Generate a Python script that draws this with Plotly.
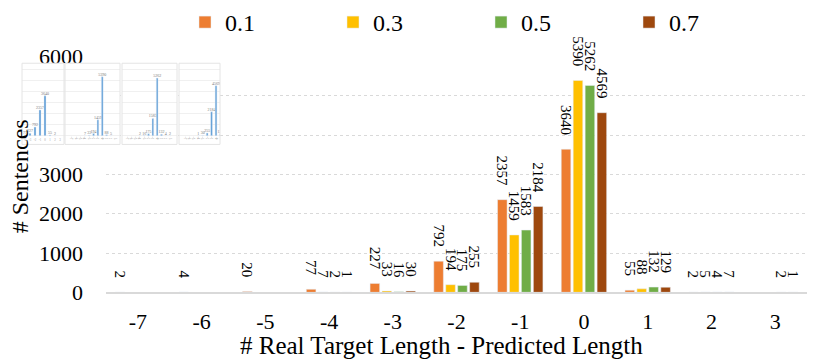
import plotly.graph_objects as go

W, H = 830, 359

categories = ["-7", "-6", "-5", "-4", "-3", "-2", "-1", "0", "1", "2", "3"]
rate_01 = [2, 4, 20, 77, 227, 792, 2357, 3640, 55, 2, None]
rate_03 = [None, None, None, 7, 33, 194, 1459, 5390, 88, 5, None]
rate_05 = [None, None, None, 2, 16, 175, 1583, 5262, 132, 4, 2]
rate_07 = [None, None, None, 1, 30, 255, 2184, 4569, 129, 7, 1]
series_names = ["0.1", "0.3", "0.5", "0.7"]
y_ticks = [0, 1000, 2000, 3000, 4000, 5000, 6000]

colors = ["#ED7D31", "#FFC000", "#70AD47", "#9E480E"]
FONT = "Liberation Serif"
PAD = "\u00a0\u00a0\u00a0"


def px_x(p):
    return p / W


def px_y(p):
    return 1 - p / H


def labels(vals, pad=PAD):
    return [None if v is None else f"{v}{pad}" for v in vals]


fig = go.Figure()
all_series = [rate_01, rate_03, rate_05, rate_07]
for name, vals, col in zip(series_names, all_series, colors):
    fig.add_trace(go.Bar(
        x=categories, y=vals, name=name, marker_color=col,
        text=labels(vals), textposition="outside", textangle=90,
        constraintext="none", cliponaxis=False,
        textfont=dict(family=FONT, size=15, color="black"),
        xaxis="x", yaxis="y"))

# small thumbnail charts pasted over the top-left corner.
# each one overlaps the main plot area a little so plotly gives it a white background
panels = [  # series index, pixel x0, x1, category-index range
    (0, 22, 107, 2.4, 19.4),
    (1, 65, 120, -1.6, 11.1),
    (2, 122, 177, -1.16, 11.6),
    (3, 179, 220, -1.36, 7.9),
]
frames = [(22, 64), (65, 120), (122, 177), (179, 220)]
for n, (si, x0, x1, r0, r1) in enumerate(panels, start=2):
    vals = all_series[si]
    fig.add_trace(go.Bar(
        x=categories, y=vals, marker_color="#5B9BD5", showlegend=False,
        text=labels(vals, ""), textposition="outside", cliponaxis=True,
        constraintext="none",
        textfont=dict(size=4, color="#777777"),
        xaxis=f"x{n}", yaxis=f"y{n}", width=0.4))
    fig.update_layout({
        f"xaxis{n}": dict(domain=[px_x(x0), px_x(x1)], anchor=f"y{n}", type="category",
                          range=[r0, r1], showgrid=False, showline=False,
                          tickfont=dict(size=3, color="#999999"),
                          ticklabelposition="inside", ticks="", automargin=False),
        f"yaxis{n}": dict(domain=[px_y(137), px_y(53)], anchor=f"x{n}",
                          range=[-794, 6618], tickvals=y_ticks, showticklabels=False,
                          gridcolor="#f0f0f0", gridwidth=1, zeroline=False,
                          automargin=False),
    })
for fx0, fx1 in frames:
    fig.add_shape(type="rect", xref="paper", yref="paper",
                  x0=px_x(fx0), x1=px_x(fx1), y0=px_y(137), y1=px_y(53),
                  line=dict(color="#e4e4e4", width=1), layer="above")

fig.update_layout(
    width=W, height=H,
    margin=dict(l=0, r=0, t=0, b=0),
    paper_bgcolor="white", plot_bgcolor="white",
    barmode="group", bargap=0.25, bargroupgap=0.2,
    font=dict(family=FONT, color="black"),
    legend=dict(orientation="h", x=px_x(185), xanchor="left", y=1.036, yanchor="top",
                entrywidth=103, bgcolor="rgba(0,0,0,0)",
                font=dict(family=FONT, size=24), traceorder="normal"),
    xaxis=dict(domain=[px_x(106), px_x(807)], anchor="y", type="category",
               showgrid=False, showline=True, linecolor="#d9d9d9", linewidth=2,
               ticks="", tickfont=dict(family=FONT, size=22), ticklabelstandoff=8,
               automargin=False),
    yaxis=dict(domain=[px_y(290), px_y(46)], anchor="x", range=[0, 6000],
               tickvals=y_ticks, showgrid=True, gridcolor="#d9d9d9", griddash="dot",
               gridwidth=1, zeroline=False, showline=False, ticks="",
               tickfont=dict(family=FONT, size=22), ticklabelstandoff=22,
               automargin=False),
    annotations=[
        dict(text="# Real Target Length - Predicted Length", xref="paper", yref="paper",
             x=px_x(441), y=px_y(345), xanchor="center", yanchor="middle",
             showarrow=False, font=dict(family=FONT, size=25)),
        dict(text="# Sentences", xref="paper", yref="paper", textangle=-90,
             x=px_x(20), y=px_y(170), xanchor="center", yanchor="middle",
             showarrow=False, font=dict(family=FONT, size=24)),
    ],
)

fig.write_html("out.html", config={"displayModeBar": False},
               post_script="document.body.style.margin='0px';")
